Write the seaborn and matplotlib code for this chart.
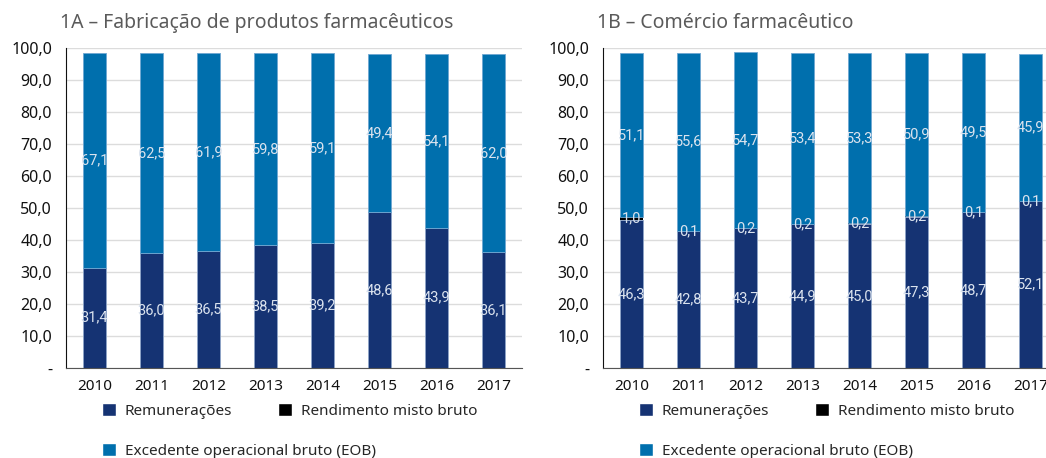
import numpy as np
import pandas as pd
import matplotlib.pyplot as plt
import seaborn as sns
from matplotlib.patches import Patch
from matplotlib.ticker import FuncFormatter, MultipleLocator

anos = ["2010", "2011", "2012", "2013", "2014", "2015", "2016", "2017"]
# 1A - fabricacao
remun_a = [31.4, 36.0, 36.5, 38.5, 39.2, 48.6, 43.9, 36.1]
eob_a = [67.1, 62.5, 61.9, 59.8, 59.1, 49.4, 54.1, 62.0]
# 1B - comercio
remun_b = [46.3, 42.8, 43.7, 44.9, 45.0, 47.3, 48.7, 52.1]
misto_b = [1.0, 0.1, 0.2, 0.2, 0.2, 0.2, 0.1, 0.1]
eob_b = [51.1, 55.6, 54.7, 53.4, 53.3, 50.9, 49.5, 45.9]

titulos = ["1A – Fabricação de produtos farmacêuticos", "1B – Comércio farmacêutico"]
nomes = ["Remunerações", "Rendimento misto bruto", "Excedente operacional bruto (EOB)"]
cores = ["#153373", "#000000", "#006fad"]

sns.set_style("white")
plt.rcParams["font.family"] = ["Noto Sans", "DejaVu Sans"]

W, H = 1046, 458
fig = plt.figure(figsize=(W / 100, H / 100), dpi=100)

def fmt(v, pos=None):
    if abs(v) < 1e-9:
        return "-"
    return f"{v:.1f}".replace(".", ",")

paineis = [
    (66, titulos[0], remun_a, None, eob_a),
    (603, titulos[1], remun_b, misto_b, eob_b),
]

for x0, titulo, rem, mis, eob in paineis:
    ax = fig.add_axes([x0 / W, 90 / H, 456 / W, 320 / H])
    df = pd.DataFrame({"ano": anos, "rem": rem, "eob": eob})
    df["mis"] = mis if mis is not None else 0.0
    base = np.array(rem, dtype=float)
    sns.barplot(data=df, x="ano", y="rem", order=anos, color=cores[0], width=0.42,
                edgecolor="#8ea5c8", linewidth=0.6, ax=ax, saturation=1)
    conts = [(ax.containers[-1], rem)]
    if mis is not None:
        sns.barplot(data=df, x="ano", y="mis", order=anos, color=cores[1], width=0.42,
                    bottom=base, linewidth=0, ax=ax, saturation=1)
        conts.append((ax.containers[-1], mis))
        base = base + np.array(mis)
    sns.barplot(data=df, x="ano", y="eob", order=anos, color=cores[2], width=0.42,
                bottom=base, edgecolor="#6fa7d2", linewidth=0.6, ax=ax, saturation=1)
    conts.append((ax.containers[-1], eob))
    for c, vals in conts:
        ax.bar_label(c, labels=[fmt(v) for v in vals], label_type="center",
                     color="#dbe3ee", fontsize=10.5, family=["Roboto", "DejaVu Sans"])

    ax.set_xlim(-0.5, 7.5)
    ax.set_ylim(0, 100)
    ax.yaxis.set_major_locator(MultipleLocator(10))
    ax.yaxis.set_major_formatter(FuncFormatter(fmt))
    ax.grid(axis="y", color="#dcdcdc", lw=1)
    ax.set_axisbelow(True)
    ax.set_xlabel("")
    ax.set_ylabel("")
    ax.set_xticks(np.arange(-0.5, 8, 1), minor=True)
    ax.tick_params(axis="x", which="major", length=0, pad=8, labelsize=11, colors="#111111")
    ax.tick_params(axis="x", which="minor", length=10, width=1, color="#333333", direction="out")
    ax.tick_params(axis="y", length=6, width=1, color="#333333", direction="out", labelsize=11.5,
                   labelcolor="#111111", pad=4)
    for s in ["top", "right"]:
        ax.spines[s].set_visible(False)
    ax.spines["left"].set_color("#111111")
    ax.spines["bottom"].set_color("#555555")
    fig.text((x0 - 6) / W, 1 - 23 / H, titulo, fontsize=14, color="#5a5a5a", va="center", ha="left")

    h = [Patch(facecolor=c) for c in cores]
    leg1 = ax.legend([h[0], h[2]], [nomes[0], nomes[2]], loc="upper left",
                     bbox_to_anchor=(36 / 456, -35 / 320), frameon=False, fontsize=11,
                     handlelength=0.9, handleheight=0.9, handletextpad=0.6, labelspacing=1.6,
                     borderpad=0, borderaxespad=0)
    ax.add_artist(leg1)
    ax.legend([h[1]], [nomes[1]], loc="upper left", bbox_to_anchor=(212 / 456, -35 / 320),
              frameon=False, fontsize=11, handlelength=0.9, handleheight=0.9, handletextpad=0.6,
              borderpad=0, borderaxespad=0)

fig.savefig("out.png", dpi=100)
